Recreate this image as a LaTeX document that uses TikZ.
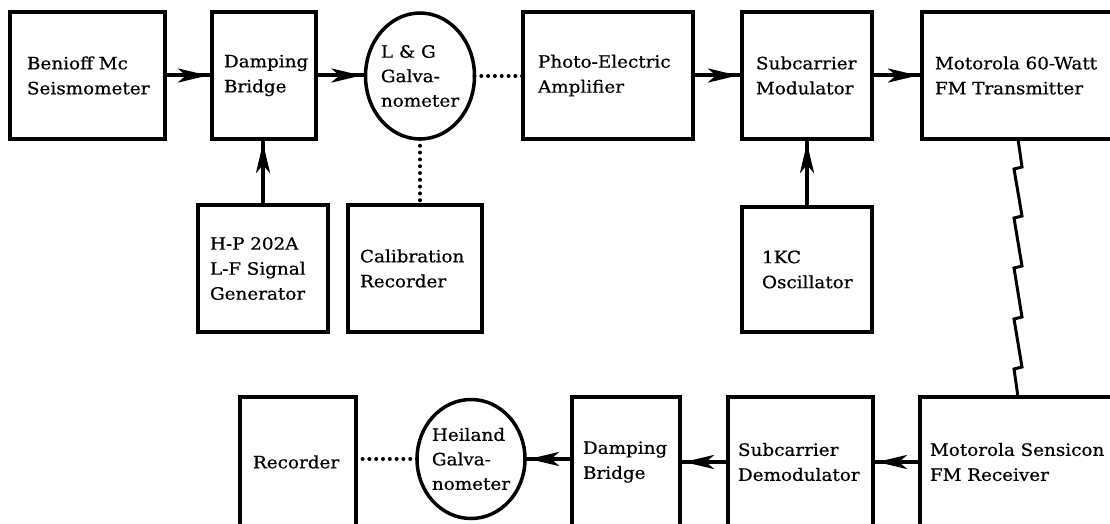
\documentclass[tikz,border=0pt]{standalone}
\usepackage{fontspec}
\setmainfont[FakeStretch=1.08,FakeBold=0.6]{DejaVu Serif}
\usetikzlibrary{shapes.geometric,arrows.meta,decorations.markings,calc}
\begin{document}
\begin{tikzpicture}[x=1pt,y=-1pt,
  every node/.style={font=\fontsize{17}{25}\selectfont},
  blk/.style={draw, line width=3.5pt, rectangle, align=left, inner ysep=0pt, outer sep=0pt},
  galv/.style={draw, line width=3.5pt, ellipse, inner xsep=-10pt, inner ysep=-15pt, outer sep=0pt, align=left, font=\fontsize{17}{24.5}\selectfont},
  flow/.style={line width=4pt, postaction={decorate},
    decoration={markings, mark=at position -4pt with {\arrow{Stealth[length=30pt,width=14pt,inset=8pt]}}}},
  dotline/.style={line width=4pt, line cap=round, dash pattern=on 0pt off 6.8pt},
  bolt/.style={line width=3pt, line join=miter}]
\useasboundingbox (0,0) rectangle (1110,524);
\clip (0,0) rectangle (1110,524);
\fill[white] (0,0) rectangle (1110,524);

% top row
\node[blk, minimum width=155pt, minimum height=127pt, text width=121pt, inner xsep=17pt] (ben) at (87.5,75.5) {Benioff Mc\\Seismometer};
\node[blk, minimum width=104pt, minimum height=127pt, text width=80pt, inner xsep=12pt] (db1) at (264,75.5) {Damping\\Bridge};
\node[galv, minimum width=109pt, minimum height=126pt] (lg) at (420,76) {L \& G\\Galva-\\nometer};
\node[blk, minimum width=170pt, minimum height=127pt, text width=140pt, inner xsep=15pt] (pe) at (608,75.5) {Photo-Electric\\Amplifier};
\node[blk, minimum width=130pt, minimum height=127pt, text width=102pt, inner xsep=14pt] (scm) at (807,75.5) {Subcarrier\\Modulator};
\node[blk, minimum width=203pt, minimum height=127pt, text width=177pt, inner xsep=13pt] (tx) at (1023.5,75.5) {Motorola 60-Watt\\FM Transmitter};

% middle row
\node[blk, minimum width=130pt, minimum height=127pt, text width=106pt, inner xsep=12pt] (hp) at (263,268.5) {H-P 202A\\L-F Signal\\Generator};
\node[blk, minimum width=134pt, minimum height=127pt, text width=110pt, inner xsep=12pt] (cal) at (415,268.5) {Calibration\\Recorder};
\node[blk, minimum width=130pt, minimum height=125pt, text width=90pt, inner xsep=20pt] (osc) at (807,269.5) {1KC\\Oscillator};

% bottom row
\node[blk, minimum width=116pt, minimum height=130pt, text width=90pt, inner xsep=13pt] (rec) at (298,462) {Recorder};
\node[galv, minimum width=108pt, minimum height=119pt] (hg) at (471,459) {Heiland\\Galva-\\nometer};
\node[blk, minimum width=108pt, minimum height=130pt, text width=86pt, inner xsep=11pt] (db2) at (626,462) {Damping\\Bridge};
\node[blk, minimum width=145pt, minimum height=130pt, text width=125pt, inner xsep=10pt] (scd) at (800.5,462) {Subcarrier\\Demodulator};
\node[blk, minimum width=205pt, minimum height=130pt, text width=185pt, inner xsep=10pt] (rx) at (1022.5,462) {Motorola Sensicon\\FM Receiver};

% connectors, top
\draw[flow] (ben.east) -- (db1.west);
\draw[flow] (db1.east) -- (db1.east -| lg.west);
\draw[dotline] (lg.east) -- (lg.east -| pe.west);
\draw[flow] (pe.east) -- (scm.west);
\draw[flow] (scm.east) -- (tx.west);
\draw[flow] (hp.north) -- (hp.north |- db1.south);
\draw[dotline] (lg.south) -- (lg.south |- cal.north);
\draw[flow] (osc.north) -- (scm.south);

% radio link
\draw[bolt] ($(tx.south west)+(96,0)$) -- ++(4,28) -- ++(-8,2) -- ++(8,47) -- ++(-8,2) -- ++(8,48) -- ++(-8,2) -- ++(8,49) -- ++(-8,2) -- ++(8,48) -- ++(-8,2) -- ($(rx.north west)+(98,0)$);

% connectors, bottom
\draw[flow] (rx.west) -- (scd.east);
\draw[flow] (scd.west) -- (db2.east);
\draw[flow] (db2.west |- hg.east) -- (hg.east);
\draw[dotline] (hg.west) -- (hg.west -| rec.east);
\end{tikzpicture}
\end{document}
